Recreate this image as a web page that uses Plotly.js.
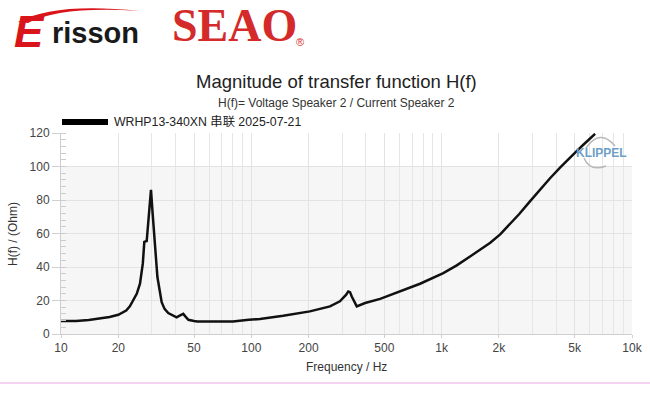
<!DOCTYPE html>
<html>
<head>
<meta charset="utf-8">
<script src="https://cdn.plot.ly/plotly-3.0.1.min.js"></script>
<style>html,body{margin:0;padding:0;background:#fff;}#chart{width:650px;height:396px;}</style>
</head>
<body>
<div id="chart"></div>
<script>
// Data
const freqHz = [10, 12, 14, 16, 18, 20, 22, 23, 24, 25, 26, 26.9, 27.4, 28.2, 29, 29.7, 30.3, 30.9, 32.1, 33.8, 35, 36.6, 38.5, 40.5, 42, 43.9, 45, 46.7, 50, 52, 60, 70, 80, 97, 111, 147, 203, 259, 292, 315, 323, 330, 337, 358, 396, 475, 629, 770, 1020, 1200, 1410, 1600, 1800, 2030, 2280, 2550, 2910, 3300, 3710, 4200, 4730, 5150, 5550, 6000, 6400];
const hOhm = [7.8, 7.8, 8.3, 9.2, 10.2, 11.5, 14, 16.5, 20, 24, 30, 42, 55, 55.5, 72, 86, 72, 58, 34, 19, 15, 12.5, 11, 10, 11, 12, 10.5, 8.5, 7.8, 7.5, 7.4, 7.4, 7.5, 8.5, 9, 10.9, 13.5, 16.5, 19.5, 23.5, 25.4, 25, 22.4, 16.5, 18.5, 21, 26.4, 30, 36.4, 41, 46.3, 50.5, 54.5, 59.5, 65.3, 71.5, 79.2, 86.5, 93, 99.5, 105, 109.5, 113, 116.5, 119.5];
const seriesName = 'WRHP13-340XN 串联 2025-07-21';
const xTickVals = [10, 20, 50, 100, 200, 500, 1000, 2000, 5000, 10000];
const xTickText = ['10', '20', '50', '100', '200', '500', '1k', '2k', '5k', '10k'];
const xMinorVals = [30, 40, 60, 70, 80, 90, 300, 400, 600, 700, 800, 900, 3000, 4000, 6000, 7000, 8000, 9000];

// pixel -> paper helpers (plot area: x 61..632, y 133..334)
const L = 61, W = 571, B = 334, H = 201;
const px = x => (x - L) / W;
const py = y => (B - y) / H;
const P = (x, y) => px(x).toFixed(4) + ',' + py(y).toFixed(4);

const FONT = 'Liberation Sans, Arial, Noto Sans CJK SC, sans-serif';

const trace = {
  x: freqHz, y: hOhm, type: 'scatter', mode: 'lines',
  name: seriesName, showlegend: false,
  line: {color: '#111', width: 2.5}
};

const layout = {
  width: 650, height: 396,
  margin: {l: L, r: 650 - L - W, t: 133, b: 396 - 133 - H, pad: 0},
  paper_bgcolor: '#fff', plot_bgcolor: 'rgba(0,0,0,0)',
  font: {family: FONT, size: 12, color: '#444'},
  showlegend: false,
  xaxis: {
    type: 'log', range: [1, 4],
    tickmode: 'array', tickvals: xTickVals, ticktext: xTickText,
    showgrid: true, gridcolor: '#e3e3e3', gridwidth: 1,
    minor: {tickmode: 'array', tickvals: xMinorVals, showgrid: true, gridcolor: '#e6e6e6', ticks: ''},
    ticks: 'outside', ticklen: 3, tickcolor: '#d0d0d0',
    showline: true, linecolor: '#cfcfcf', zeroline: false,
    tickfont: {size: 12, color: '#444', family: FONT}
  },
  yaxis: {
    range: [0, 120], dtick: 20, tick0: 0,
    showgrid: true, gridcolor: '#e3e3e3',
    minor: {dtick: 4, ticks: 'inside', ticklen: 5, tickcolor: '#cccccc', showgrid: false},
    ticks: 'outside', ticklen: 8, tickcolor: '#d0d0d0',
    showline: true, linecolor: '#cfcfcf', zeroline: false,
    tickfont: {size: 12, color: '#444', family: FONT}
  },
  shapes: [
    {type: 'rect', xref: 'paper', yref: 'y', x0: 0, x1: 1, y0: 0, y1: 100, fillcolor: '#f6f6f6', line: {width: 0}, layer: 'below'},
    // legend sample line
    {type: 'line', xref: 'paper', yref: 'paper', x0: px(62), x1: px(108), y0: py(122), y1: py(122), line: {color: '#000', width: 6}},
    // pink separator
    {type: 'line', xref: 'paper', yref: 'paper', x0: px(0), x1: px(650), y0: py(383), y1: py(383), line: {color: '#e9a8e6', width: 1.2}},
    // Erisson swoosh
    {type: 'path', xref: 'paper', yref: 'paper',
     path: 'M' + P(18, 22) + ' Q' + P(55, 2) + ' ' + P(140, 11) + ' Q' + P(60, 6) + ' ' + P(28, 23) + ' Z',
     fillcolor: '#d9141b', line: {width: 0}},
    // KLIPPEL arcs
    {type: 'path', xref: 'paper', yref: 'paper',
     path: 'M' + P(586, 148) + ' Q' + P(600, 128) + ' ' + P(615, 146),
     line: {color: '#b8b8b8', width: 1.5}},
    {type: 'path', xref: 'paper', yref: 'paper',
     path: 'M' + P(584, 158) + ' Q' + P(590, 172) + ' ' + P(606, 166),
     line: {color: '#b8b8b8', width: 1.5}}
  ],
  annotations: [
    {text: 'Magnitude of transfer function H(f)', xref: 'paper', yref: 'paper', x: px(336), y: py(81), xanchor: 'center', yanchor: 'middle', showarrow: false, font: {size: 18.5, color: '#222', family: FONT}},
    {text: 'H(f)= Voltage Speaker 2 / Current Speaker 2', xref: 'paper', yref: 'paper', x: px(336), y: py(103), xanchor: 'center', yanchor: 'middle', showarrow: false, font: {size: 12, color: '#333', family: FONT}},
    {text: seriesName, xref: 'paper', yref: 'paper', x: px(112), y: py(122), xanchor: 'left', yanchor: 'middle', showarrow: false, font: {size: 12.3, color: '#222', family: FONT}},
    {text: 'Frequency / Hz', xref: 'paper', yref: 'paper', x: px(346), y: py(367), xanchor: 'center', yanchor: 'middle', showarrow: false, font: {size: 12, color: '#333', family: FONT}},
    {text: 'H(f) / (Ohm)', xref: 'paper', yref: 'paper', x: px(13), y: py(234), xanchor: 'center', yanchor: 'middle', textangle: -90, showarrow: false, font: {size: 12, color: '#333', family: FONT}},
    {text: '<b><i>E</i></b>', xref: 'paper', yref: 'paper', x: px(12), y: py(31), xanchor: 'left', yanchor: 'middle', showarrow: false, font: {size: 44, color: '#d9141b', family: 'Liberation Sans, Arial, sans-serif'}},
    {text: '<b>risson</b>', xref: 'paper', yref: 'paper', x: px(50), y: py(51), xanchor: 'left', yanchor: 'bottom', showarrow: false, font: {size: 29, color: '#1a1a1a', family: 'Liberation Sans, Arial, sans-serif'}},
    {text: '<b>SEAO</b>', xref: 'paper', yref: 'paper', x: px(170), y: py(53), xanchor: 'left', yanchor: 'bottom', showarrow: false, font: {size: 46, color: '#d42a2a', family: 'Liberation Serif, DejaVu Serif, serif'}},
    {text: '®', xref: 'paper', yref: 'paper', x: px(300), y: py(42), xanchor: 'center', yanchor: 'middle', showarrow: false, font: {size: 11, color: '#d42a2a', family: FONT}},
    {text: '<b>KLIPPEL</b>', xref: 'paper', yref: 'paper', x: px(601), y: py(153), xanchor: 'center', yanchor: 'middle', showarrow: false, font: {size: 12, color: '#6e9fc6', family: FONT}}
  ]
};

Plotly.newPlot('chart', [trace], layout, {staticPlot: true, displayModeBar: false});
</script>
</body>
</html>
